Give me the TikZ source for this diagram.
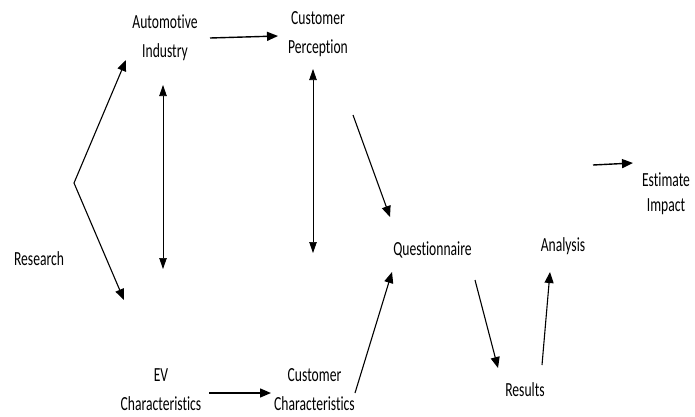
\documentclass[tikz,border=0pt]{standalone}
\usepackage{fontspec}
\setmainfont{Carlito}[FakeStretch=0.68,Ligatures=NoCommon]
\usetikzlibrary{arrows.meta}
\begin{document}
\begin{tikzpicture}[x=1pt,y=-1pt,
  lbl/.style={align=center,inner sep=0pt,font=\fontsize{20}{29}\selectfont},
  arr/.style={-{Triangle[length=11pt,width=9pt]},line width=1.4pt},
  dbl/.style={{Triangle[length=11pt,width=7.5pt]}-{Triangle[length=11pt,width=7.5pt]},line width=0.7pt}]
\useasboundingbox (0,0) rectangle (695,416);
% nodes
\node[lbl] (auto) at (165,38) {Automotive\\Industry};
\node[lbl] (cper) at (318,34.5) {Customer\\Perception};
\node[lbl] (res) at (39,258.5) {Research};
\node[lbl] (ev) at (161,390) {EV\\Characteristics};
\node[lbl] (cchar) at (314.5,390) {Customer\\Characteristics};
\node[lbl] (quest) at (432.5,250) {Questionnaire};
\node[lbl] (anal) at (563,246.5) {Analysis};
\node[lbl] (resu) at (525,389.5) {Results};
\node[lbl] (est) at (666,193.5) {Estimate\\[-4pt]Impact};
% connector end points
\coordinate (br) at (74,183);
\coordinate (brU) at (126,60);
\coordinate (brD) at (124,300);
\coordinate (a1) at (210,38);
\coordinate (a2) at (278,36);
\coordinate (d1t) at (163,85);
\coordinate (d1b) at (163,269);
\coordinate (d2t) at (313,69);
\coordinate (d2b) at (313,253);
\coordinate (q1s) at (353,115);
\coordinate (q1e) at (390,217);
\coordinate (e1) at (209,393);
\coordinate (e2) at (271,393);
\coordinate (q2s) at (355,393);
\coordinate (q2e) at (392,272);
\coordinate (r1s) at (475,280);
\coordinate (r1e) at (498,368);
\coordinate (r2s) at (542,365);
\coordinate (r2e) at (550,272);
\coordinate (i1) at (593,165);
\coordinate (i2) at (633,163);
% connectors
\draw[arr,line width=1.1pt] (br) -- (brU);
\draw[arr,line width=1.1pt] (br) -- (brD);
\draw[arr] (a1) -- (a2);
\draw[dbl] (d1t) -- (d1b);
\draw[dbl] (d2t) -- (d2b);
\draw[arr,line width=1.1pt] (q1s) -- (q1e);
\draw[arr] (e1) -- (e2);
\draw[arr,line width=1.1pt] (q2s) -- (q2e);
\draw[arr,line width=1.1pt] (r1s) -- (r1e);
\draw[arr,line width=1.1pt] (r2s) -- (r2e);
\draw[arr] (i1) -- (i2);
\end{tikzpicture}
\end{document}
